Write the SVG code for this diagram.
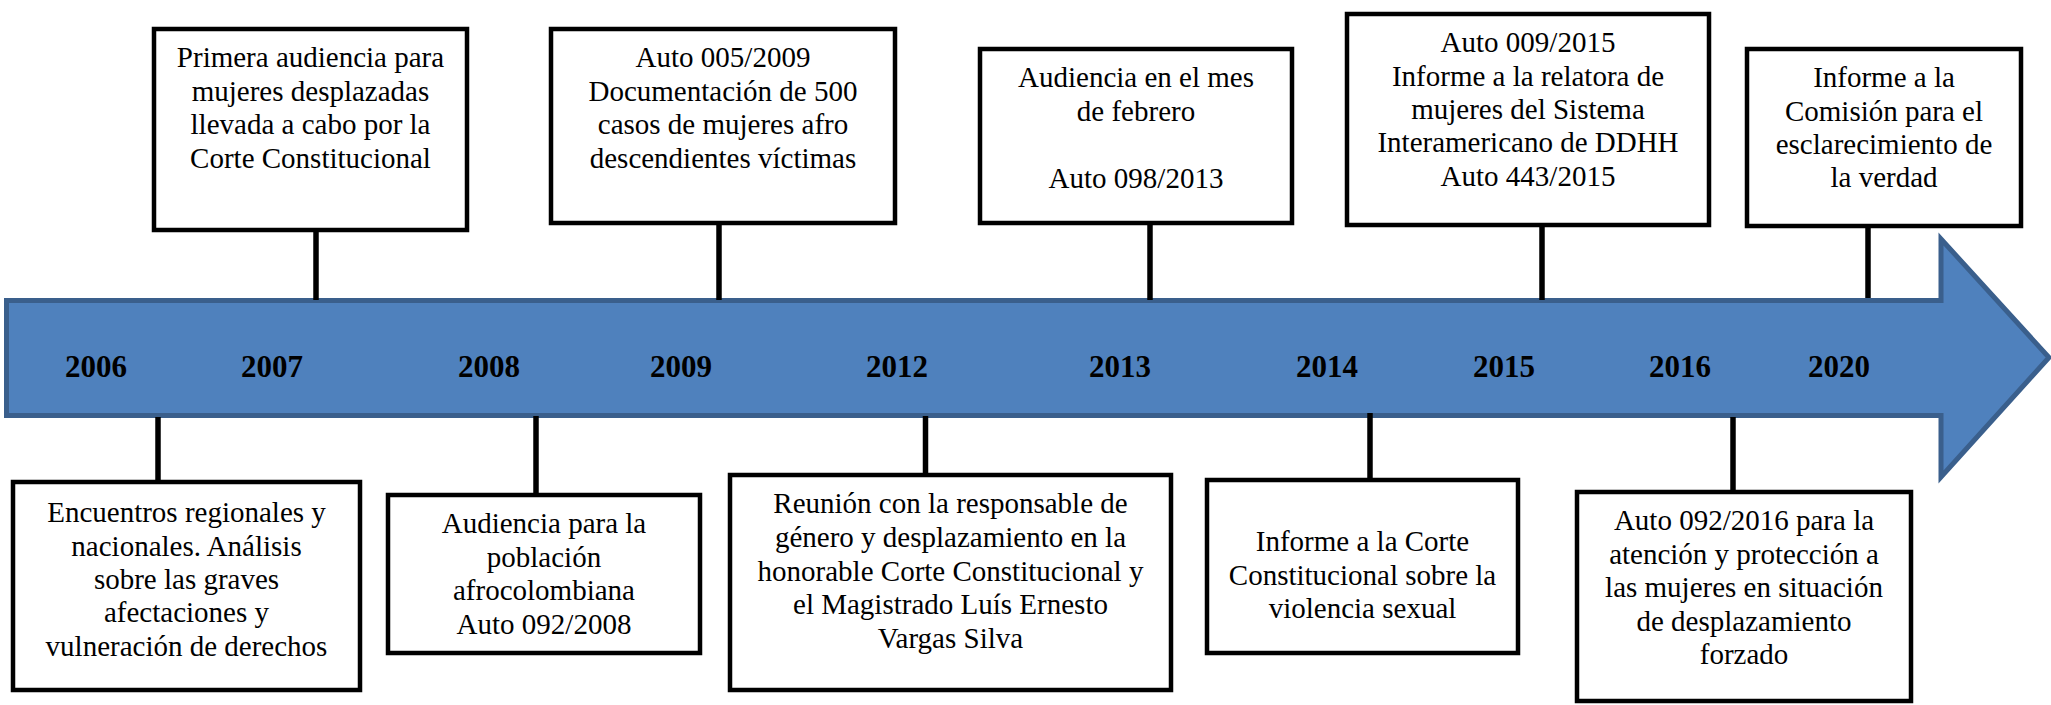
<svg xmlns="http://www.w3.org/2000/svg" width="2051" height="705" viewBox="0 0 2051 705">
<style>
.box{fill:#fff;stroke:#000;stroke-width:4.5}
.t{font-family:"Liberation Serif","Times New Roman",serif;font-size:29px;fill:#000;text-anchor:middle}
.y{font-family:"Liberation Serif","Times New Roman",serif;font-size:31px;font-weight:bold;fill:#000;text-anchor:middle}
.c{stroke:#000;stroke-width:5.5;fill:none}
</style>
<rect width="2051" height="705" fill="#fff"/>
<g id="timeline">
<path d="M6.5,300.5 H1941 V239 L2049,357.5 L1941,477 V415.5 H6.5 Z" fill="#4F81BD" stroke="#3A5F8C" stroke-width="5"/>
<text class="y" x="96" y="377">2006</text>
<text class="y" x="272" y="377">2007</text>
<text class="y" x="489" y="377">2008</text>
<text class="y" x="681" y="377">2009</text>
<text class="y" x="897" y="377">2012</text>
<text class="y" x="1120" y="377">2013</text>
<text class="y" x="1327" y="377">2014</text>
<text class="y" x="1504" y="377">2015</text>
<text class="y" x="1680" y="377">2016</text>
<text class="y" x="1839" y="377">2020</text>
</g>
<g id="connectors">
<line class="c" x1="316" y1="230" x2="316" y2="300"/>
<line class="c" x1="719" y1="223" x2="719" y2="300"/>
<line class="c" x1="1150" y1="223" x2="1150" y2="300"/>
<line class="c" x1="1542" y1="225" x2="1542" y2="300"/>
<line class="c" x1="1868" y1="226" x2="1868" y2="298"/>
<line class="c" x1="158" y1="417" x2="158" y2="482"/>
<line class="c" x1="536" y1="416" x2="536" y2="495"/>
<line class="c" x1="925.5" y1="416" x2="925.5" y2="475"/>
<line class="c" x1="1370" y1="413" x2="1370" y2="480"/>
<line class="c" x1="1733" y1="417" x2="1733" y2="492"/>
</g>
<g id="n2007">
<rect class="box" x="154" y="29" width="313" height="201"/>
<text class="t" x="310.5" y="67">Primera audiencia para</text>
<text class="t" x="310.5" y="100.5">mujeres desplazadas</text>
<text class="t" x="310.5" y="134">llevada a cabo por la</text>
<text class="t" x="310.5" y="168">Corte Constitucional</text>
</g>
<g id="n2009">
<rect class="box" x="551" y="29" width="344" height="194"/>
<text class="t" x="723" y="67">Auto 005/2009</text>
<text class="t" x="723" y="100.5">Documentación de 500</text>
<text class="t" x="723" y="134">casos de mujeres afro</text>
<text class="t" x="723" y="168">descendientes víctimas</text>
</g>
<g id="n2013">
<rect class="box" x="980" y="49" width="312" height="174"/>
<text class="t" x="1136" y="87">Audiencia en el mes</text>
<text class="t" x="1136" y="120.5">de febrero</text>
<text class="t" x="1136" y="188">Auto 098/2013</text>
</g>
<g id="n2015">
<rect class="box" x="1347" y="14" width="362" height="211"/>
<text class="t" x="1528" y="52">Auto 009/2015</text>
<text class="t" x="1528" y="85.5">Informe a la relatora de</text>
<text class="t" x="1528" y="119">mujeres del Sistema</text>
<text class="t" x="1528" y="152">Interamericano de DDHH</text>
<text class="t" x="1528" y="185.5">Auto 443/2015</text>
</g>
<g id="n2020">
<rect class="box" x="1747" y="49" width="274" height="177"/>
<text class="t" x="1884" y="87">Informe a la</text>
<text class="t" x="1884" y="120.5">Comisión para el</text>
<text class="t" x="1884" y="154">esclarecimiento de</text>
<text class="t" x="1884" y="187">la verdad</text>
</g>
<g id="n2006">
<rect class="box" x="13" y="482" width="347" height="208"/>
<text class="t" x="186.5" y="522">Encuentros regionales y</text>
<text class="t" x="186.5" y="555.5">nacionales. Análisis</text>
<text class="t" x="186.5" y="589">sobre las graves</text>
<text class="t" x="186.5" y="622">afectaciones y</text>
<text class="t" x="186.5" y="655.5">vulneración de derechos</text>
</g>
<g id="n2008">
<rect class="box" x="388" y="495" width="312" height="158"/>
<text class="t" x="544" y="533">Audiencia para la</text>
<text class="t" x="544" y="566.5">población</text>
<text class="t" x="544" y="600">afrocolombiana</text>
<text class="t" x="544" y="633.5">Auto 092/2008</text>
</g>
<g id="n2012">
<rect class="box" x="730" y="475" width="441" height="215"/>
<text class="t" x="950.5" y="513">Reunión con la responsable de</text>
<text class="t" x="950.5" y="547">género y desplazamiento en la</text>
<text class="t" x="950.5" y="580.5">honorable Corte Constitucional y</text>
<text class="t" x="950.5" y="614">el Magistrado Luís Ernesto</text>
<text class="t" x="950.5" y="647.5">Vargas Silva</text>
</g>
<g id="n2014">
<rect class="box" x="1207" y="480" width="311" height="173"/>
<text class="t" x="1362.5" y="551">Informe a la Corte</text>
<text class="t" x="1362.5" y="585">Constitucional sobre la</text>
<text class="t" x="1362.5" y="618">violencia sexual</text>
</g>
<g id="n2016">
<rect class="box" x="1577" y="492" width="334" height="209"/>
<text class="t" x="1744" y="530">Auto 092/2016 para la</text>
<text class="t" x="1744" y="563.5">atención y protección a</text>
<text class="t" x="1744" y="597">las mujeres en situación</text>
<text class="t" x="1744" y="630.5">de desplazamiento</text>
<text class="t" x="1744" y="664">forzado</text>
</g>
</svg>
